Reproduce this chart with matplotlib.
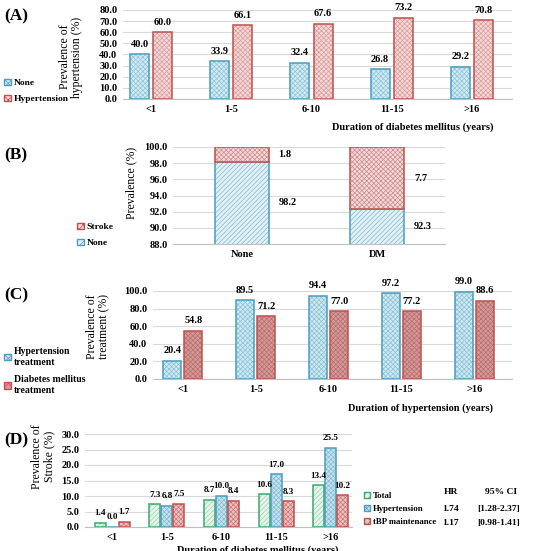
import matplotlib
matplotlib.use('Agg')
import matplotlib.pyplot as plt
from matplotlib.patches import Patch
import numpy as np

plt.rcParams['font.family'] = ['Liberation Serif', 'DejaVu Serif']
plt.rcParams['font.weight'] = 'bold'
plt.rcParams['font.size'] = 7.5
plt.rcParams['hatch.linewidth'] = 0.5

BLUE = '#4a9cc0'
RED = '#c0504d'
GREEN = '#3aa86b'

# (A) hypertension by duration of diabetes
durations = ['<1', '1-5', '6-10', '11-15', '>16']
htn_none = [40.0, 33.9, 32.4, 26.8, 29.2]
htn_yes = [60.0, 66.1, 67.6, 73.2, 70.8]

# (B) stroke by diabetes status
groups_b = ['None', 'DM']
stroke_none = [98.2, 92.3]
stroke_yes = [1.8, 7.7]

# (C) treatment by duration of hypertension
htn_treat = [20.4, 89.5, 94.4, 97.2, 99.0]
dm_treat = [54.8, 71.2, 77.0, 77.2, 88.6]

# (D) stroke by duration of diabetes
stroke_total = [1.4, 7.3, 8.7, 10.6, 13.4]
stroke_htn = [0.0, 6.8, 10.0, 17.0, 25.5]
stroke_tbp = [1.7, 7.5, 8.4, 8.3, 10.2]
hr_vals = ['1.74', '1.17']
ci_vals = ['[1.28-2.37]', '[0.98-1.41]']

W, H = 536, 551
fig = plt.figure(figsize=(W / 100, H / 100), dpi=100)


def box(l, r, top, bot):
    # pixel box -> figure fractions
    return [l / W, 1 - bot / H, (r - l) / W, (bot - top) / H]


def hbar(ax, x, h, width, face, hcol, edge, hatch, bottom=0):
    ax.bar(x, h, width, bottom=bottom, color=face, edgecolor=hcol, hatch=hatch, lw=0)
    return ax.bar(x, h, width, bottom=bottom, fill=False, edgecolor=edge, lw=1.1)


def style(ax, lo, hi, step):
    ax.set_ylim(lo, hi)
    ax.set_yticks(np.arange(lo, hi + step / 2, step))
    ax.yaxis.set_major_formatter(matplotlib.ticker.FormatStrFormatter('%.1f'))
    ax.grid(axis='y', color='#d9d9d9', lw=0.8)
    ax.set_axisbelow(True)
    for s in ['top', 'right', 'left']:
        ax.spines[s].set_visible(False)
    ax.spines['bottom'].set_color('#bfbfbf')
    ax.tick_params(length=0, pad=4)


def leg(ax, handles, labels, x, y, spacing, size=6.8):
    ax.legend(handles, labels, loc='center left', bbox_to_anchor=(x / W, 1 - y / H),
              bbox_transform=fig.transFigure, frameon=False, handlelength=0.7,
              handleheight=0.7, handletextpad=0.3, labelspacing=spacing,
              borderpad=0, borderaxespad=0, fontsize=size)


YL = 8.5

# ---- (A)
axA = fig.add_axes(box(123, 512, 10, 99))
x = np.arange(len(durations))
pA = dict(face='#d3eaf1', hcol='#8cc5d9', edge=BLUE, hatch='xxxxxxx')
pAr = dict(face='#f3d8d8', hcol='#dc9c9c', edge=RED, hatch='xxxxxxx')
bA1 = hbar(axA, x - 0.144, htn_none, 0.237, **pA)
bA2 = hbar(axA, x + 0.144, htn_yes, 0.237, **pAr)
style(axA, 0, 80, 10)
axA.set_xticks(x, durations)
axA.set_xlim(-0.35, 4.5)
axA.bar_label(bA1, fmt='%.1f', padding=4, fontweight='bold')
axA.bar_label(bA2, fmt='%.1f', padding=4, fontweight='bold')
axA.set_ylabel('Prevalence of\nhypertension (%)', linespacing=1.0, fontsize=YL)
axA.yaxis.set_label_coords(-0.103, 0.47)
leg(axA, [Patch(facecolor='#d3eaf1', edgecolor=BLUE, hatch='xxxx'),
          Patch(facecolor='#f3d8d8', edgecolor=RED, hatch='xxxx')],
    ['None', 'Hypertension'], 4, 91, 0.75)
fig.text(493 / W, 1 - 127 / H, 'Duration of diabetes mellitus (years)', ha='right', va='center')

# ---- (B)
axB = fig.add_axes(box(173, 445, 147, 244))
xb = np.arange(len(groups_b))
pB = dict(face='#e3f1f6', hcol='#78b8d2', edge=BLUE, hatch='///////')
pBr = dict(face='#f2dada', hcol='#cf8888', edge=RED, hatch='xxxxxxx')
hbar(axB, xb, stroke_none, 0.4, **pB)
hbar(axB, xb, stroke_yes, 0.4, bottom=stroke_none, **pBr)
style(axB, 88, 100, 2)
axB.set_xticks(xb, groups_b)
axB.set_xlim(-0.51, 1.5)
for i in range(len(groups_b)):
    axB.text(xb[i] + 0.27, (88 + stroke_none[i]) / 2, '%.1f' % stroke_none[i], ha='left', va='center')
    axB.text(xb[i] + 0.27, stroke_none[i] + stroke_yes[i] / 2, '%.1f' % stroke_yes[i], ha='left', va='center')
axB.set_ylabel('Prevalence (%)', fontsize=YL)
axB.yaxis.set_label_coords(-0.132, 0.63)
leg(axB, [Patch(facecolor='#f2dada', edgecolor=RED, hatch='xxxx'),
          Patch(facecolor='#e3f1f6', edgecolor=BLUE, hatch='////')],
    ['Stroke', 'None'], 77, 235, 0.75)

# ---- (C)
axC = fig.add_axes(box(153, 512, 291, 379))
pC = dict(face='#d0e8f0', hcol='#88c2d6', edge=BLUE, hatch='xxxxxxx')
pCr = dict(face='#d49a9a', hcol='#b86c6c', edge=RED, hatch='xxxxxxx')
bC1 = hbar(axC, x - 0.145, htn_treat, 0.247, **pC)
bC2 = hbar(axC, x + 0.145, dm_treat, 0.247, **pCr)
style(axC, 0, 100, 20)
axC.set_xticks(x, durations)
axC.set_xlim(-0.41, 4.52)
axC.bar_label(bC1, fmt='%.1f', padding=4, fontweight='bold')
axC.bar_label(bC2, fmt='%.1f', padding=4, fontweight='bold')
axC.set_ylabel('Prevalence of\ntreatment (%)', linespacing=1.0, fontsize=YL)
axC.yaxis.set_label_coords(-0.12, 0.60)
leg(axC, [Patch(facecolor='#d0e8f0', edgecolor=BLUE, hatch='xxxx'),
          Patch(facecolor='#d49a9a', edgecolor=RED, hatch='xxxx')],
    ['Hypertension\ntreatment', 'Diabetes mellitus\ntreatment'], 4, 371, 0.9, 7)
fig.text(493 / W, 1 - 408 / H, 'Duration of hypertension (years)', ha='right', va='center')

# ---- (D)
axD = fig.add_axes(box(85, 352, 434, 527))
pDg = dict(face='#e6f5ea', hcol='#98d4ae', edge=GREEN, hatch='///////')
pDb = dict(face='#c8e2ec', hcol='#80bcd3', edge=BLUE, hatch='xxxxxxx')
pDr = dict(face='#ebc0c0', hcol='#c97878', edge=RED, hatch='xxxxxxx')
bD1 = hbar(axD, x - 0.22, stroke_total, 0.2, **pDg)
bD2 = hbar(axD, x, stroke_htn, 0.2, **pDb)
bD3 = hbar(axD, x + 0.22, stroke_tbp, 0.2, **pDr)
style(axD, 0, 30, 5)
axD.set_xticks(x, durations)
axD.set_xlim(-0.5, 4.39)
for b in (bD1, bD2, bD3):
    axD.bar_label(b, fmt='%.1f', padding=4, fontweight='bold', fontsize=6.6)
axD.set_ylabel('Prevalence of\nStroke (%)', linespacing=1.0, fontsize=YL)
axD.yaxis.set_label_coords(-0.112, 0.76)
leg(axD, [Patch(facecolor='#e6f5ea', edgecolor=GREEN, hatch='////'),
          Patch(facecolor='#c8e2ec', edgecolor=BLUE, hatch='xxxx'),
          Patch(facecolor='#ebc0c0', edgecolor=RED, hatch='xxxx')],
    ['Total', 'Hypertension', 'tBP maintenance'], 364, 509, 0.55, 6.3)
fig.text(451 / W, 1 - 492 / H, 'HR', ha='center', va='center', fontsize=6.8)
fig.text(501 / W, 1 - 492 / H, '95% CI', ha='center', va='center', fontsize=6.8)
for i, yy in enumerate([509, 523]):
    fig.text(451 / W, 1 - yy / H, hr_vals[i], ha='center', va='center', fontsize=6.8)
    fig.text(499 / W, 1 - yy / H, ci_vals[i], ha='center', va='center', fontsize=6.8)
fig.text(258 / W, 1 - 545 / H, 'Duration of diabetes mellitus (years)', ha='center', va='top')

# panel letters
for lab, yy in [('(A)', 16), ('(B)', 155), ('(C)', 295), ('(D)', 440)]:
    fig.text(4 / W, 1 - yy / H, lab, fontsize=12.5, fontweight='bold', va='center')

fig.savefig('out.png', dpi=100)
